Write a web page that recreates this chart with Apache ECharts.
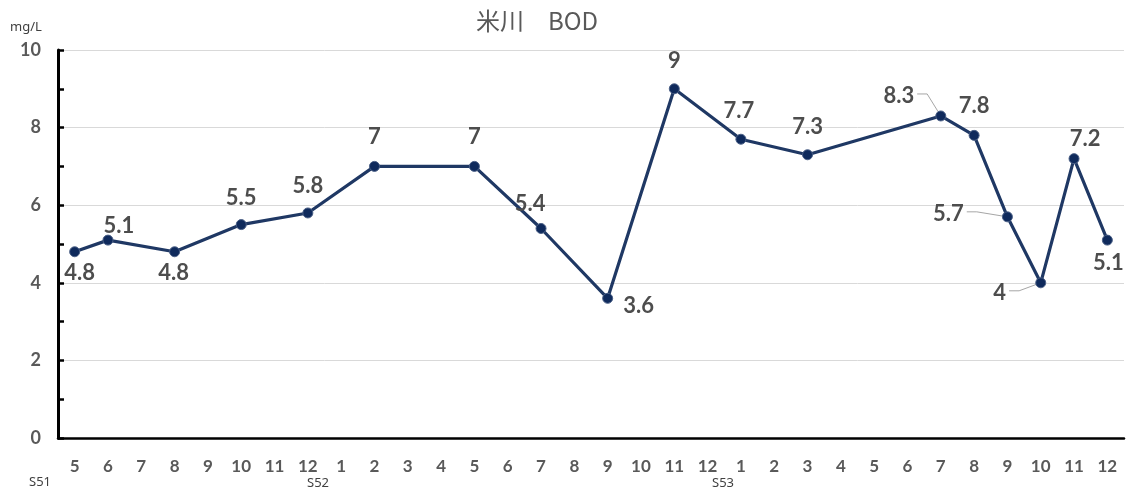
<!DOCTYPE html>
<html>
<head>
<meta charset="utf-8">
<title>米川 BOD</title>
<script src="https://cdn.jsdelivr.net/npm/echarts@6/dist/echarts.min.js"></script>
<style>
  html, body { margin: 0; padding: 0; background: #ffffff; }
  #chart { width: 1129px; height: 493px; }
</style>
</head>
<body>
<div id="chart"></div>
<script>
// Survey months, S51-5 through S53-12
const months = ['5','6','7','8','9','10','11','12','1','2','3','4',
                '5','6','7','8','9','10','11','12','1','2','3','4',
                '5','6','7','8','9','10','11','12'];

// BOD (mg/L); null = no measurement that month
const bod = [4.8, 5.1, null, 4.8, null, 5.5, null, 5.8, null, 7, null, null,
             7, null, 5.4, null, 3.6, null, 9, null, 7.7, null, 7.3, null,
             null, null, 8.3, 7.8, 5.7, 4, 7.2, 5.1];

const yTicks = [0, 2, 4, 6, 8, 10];
const eraLabels = ['S51', 'S52', 'S53'];

// Label placement relative to each point (px), by month index
const labelOffsets = {
  0: [5, 21], 1: [11, -14], 3: [-1, 21], 5: [0, -27], 7: [0, -27],
  9: [0, -29], 12: [0, -29], 14: [-11, -25], 16: [31, 8], 18: [0, -28],
  20: [-2, -28], 22: [0, -28], 26: [-42, -20], 27: [0, -29], 28: [-59, -3],
  29: [-41, 10], 30: [11, -20], 31: [1, 23]
};
// Labels that get a thin guide line back to their point
const guided = [26, 28, 29];

const textGray = '#595959';
const lineBlue = '#1f3864';
const numFont = 'Lato, "Noto Sans", sans-serif';
const labelFontSize = 22;

const seriesData = bod.map((v, i) => {
  if (v == null) return null;
  return { value: v, label: { offset: labelOffsets[i] || [0, -26] } };
});

const chart = echarts.init(document.getElementById('chart'), null, { renderer: 'canvas' });

const baseGraphics = [
  {
    type: 'text', left: 476, top: 9,
    style: { text: '米川　BOD', fill: textGray, fontSize: 24,
             fontFamily: '"Noto Sans CJK JP", "Noto Sans", sans-serif' }
  },
  {
    type: 'text', left: 10, top: 21,
    style: { text: 'mg/L', fill: '#404040', fontSize: 13, fontFamily: '"Noto Sans", sans-serif' }
  },
  {
    type: 'text', left: 29, top: 476,
    style: { text: eraLabels[0], fill: '#404040', fontSize: 13, fontFamily: '"Noto Sans", sans-serif' }
  },
  {
    type: 'text', left: 307, top: 477,
    style: { text: eraLabels[1], fill: '#404040', fontSize: 13, fontFamily: '"Noto Sans", sans-serif' }
  },
  {
    type: 'text', left: 712, top: 477,
    style: { text: eraLabels[2], fill: '#404040', fontSize: 13, fontFamily: '"Noto Sans", sans-serif' }
  }
];

chart.setOption({
  animation: false,
  backgroundColor: '#ffffff',
  grid: { left: 58, right: 5, top: 50, bottom: 55, containLabel: false },
  xAxis: {
    type: 'category',
    data: months,
    boundaryGap: true,
    axisLine: { show: true, lineStyle: { color: '#000000', width: 2.5 } },
    axisTick: { show: false },
    axisLabel: {
      interval: 0, margin: 20,
      color: textGray, fontFamily: numFont, fontWeight: 'bold', fontSize: 17
    },
    splitLine: { show: false }
  },
  yAxis: {
    type: 'value',
    min: yTicks[0],
    max: yTicks[yTicks.length - 1],
    interval: 2,
    axisLine: { show: true, lineStyle: { color: '#000000', width: 3 } },
    axisTick: { show: true, inside: true, length: 6, lineStyle: { color: '#000000', width: 2.5 } },
    minorTick: { show: true, splitNumber: 2, length: 6, lineStyle: { color: '#000000', width: 2.5 } },
    axisLabel: {
      margin: 17,
      color: textGray, fontFamily: numFont, fontWeight: 'bold', fontSize: 18
    },
    splitLine: { show: true, lineStyle: { color: '#d9d9d9', width: 1 } }
  },
  series: [{
    type: 'line',
    data: seriesData,
    connectNulls: true,
    symbol: 'circle',
    symbolSize: 10,
    z: 3,
    lineStyle: { color: lineBlue, width: 3.2 },
    itemStyle: { color: '#0f2a5c', borderColor: '#4a5f86', borderWidth: 1 },
    label: {
      show: true,
      position: 'inside',
      color: '#4d4d4d',
      fontFamily: numFont,
      fontWeight: 'bold',
      fontSize: labelFontSize
    }
  }],
  graphic: baseGraphics
});

// Guide lines: from the right edge of a moved label, a short horizontal run,
// then down/up to the marker it belongs to.
const measureCtx = document.createElement('canvas').getContext('2d');
measureCtx.font = 'bold ' + labelFontSize + 'px ' + numFont;
const guideLines = guided.map((i) => {
  const p = chart.convertToPixel({ seriesIndex: 0 }, [i, bod[i]]);
  const off = labelOffsets[i];
  const halfW = measureCtx.measureText(String(bod[i])).width / 2;
  const sx = p[0] + off[0] + halfW + 3;
  const sy = p[1] + off[1] - 2;
  const kx = sx + 10;
  const dx = p[0] - kx, dy = p[1] - sy;
  const len = Math.sqrt(dx * dx + dy * dy);
  const ex = p[0] - dx / len * 5, ey = p[1] - dy / len * 5;
  return {
    type: 'polyline', z: 2, silent: true,
    shape: { points: [[sx, sy], [kx, sy], [ex, ey]] },
    style: { stroke: '#a6a6a6', lineWidth: 1, fill: null }
  };
});
chart.setOption({ graphic: baseGraphics.concat(guideLines) });
</script>
</body>
</html>
